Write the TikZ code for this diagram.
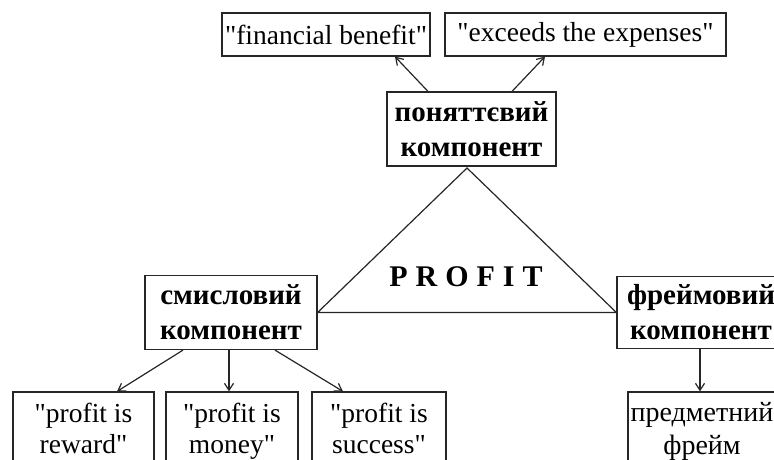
\documentclass[tikz,border=0pt]{standalone}
\usepackage{fontspec}
\setmainfont{Liberation Serif}
\usetikzlibrary{arrows.meta}
\newcommand{\qd}{\textquotedbl}
\tikzset{
  box/.style={draw=black!85, line width=1.2pt, inner sep=0pt, align=center},
  entext/.style={font=\fontsize{27.5}{31}\selectfont},
  uktext/.style={font=\fontsize{29}{35}\selectfont\bfseries},
  ukreg/.style={font=\fontsize{28}{33}\selectfont},
  conn/.style={draw=black!85, line width=1.2pt, -{Straight Barb[length=7pt,width=9pt,line width=1.2pt]}},
  tri/.style={draw=black!85, line width=1.2pt, line join=miter}
}
\begin{document}
\begin{tikzpicture}[x=1pt,y=-1pt]
\useasboundingbox (0,0) rectangle (774,459);
\clip (0,0) rectangle (774,459);
% top boxes
\node[box,entext,minimum width=208pt,minimum height=43pt] (fin) at (326,34.5) {\qd financial benefit\qd};
\node[box,entext,minimum width=281pt,minimum height=43pt] (exc) at (585.5,34.5) {\qd exceeds the expenses\qd};
\node[box,uktext,minimum width=169pt,minimum height=74pt] (pon) at (471.5,129) {поняттєвий\\компонент};
% middle boxes
\node[box,uktext,minimum width=172pt,minimum height=74pt] (smys) at (231,312.5) {смисловий\\компонент};
\node[box,uktext,minimum width=168pt,minimum height=72pt] (frame) at (701,312.5) {фреймовий\\компонент};
% bottom boxes
\node[box,entext,minimum width=141pt,minimum height=78pt] (reward) at (83.5,431) {\qd profit is\\reward\qd\vphantom{y}};
\node[box,entext,minimum width=132pt,minimum height=78pt] (money) at (232,431) {\qd profit is\\money\qd};
\node[box,entext,minimum width=134pt,minimum height=78pt] (success) at (379,431) {\qd profit is\\success\qd\vphantom{y}};
\node[box,ukreg,minimum width=148pt,minimum height=78pt] (predm) at (702,431) {предметний\\фрейм};
% triangle
\coordinate (apex) at (467,168);
\draw[tri] (smys.east) -- (apex) -- (frame.west) -- cycle;
\node[font=\fontsize{30}{30}\selectfont\bfseries, inner sep=0pt] (profit) at (466,277) {P\kern8pt R\kern8pt O\kern8pt F\kern8pt I\kern8pt T};
% connectors
\draw[conn] ([xshift=-43.5pt]pon.north) -- ([xshift=69pt]fin.south);
\draw[conn] ([xshift=40.5pt]pon.north) -- ([xshift=-40.5pt]exc.south);
\draw[conn] ([xshift=-48pt]smys.south) -- ([xshift=33.5pt]reward.north);
\draw[conn] ([xshift=-2pt]smys.south) -- ([xshift=-3pt]money.north);
\draw[conn] ([xshift=44pt]smys.south) -- ([xshift=-36pt]success.north);
\draw[conn] ([xshift=-1pt]frame.south) -- ([xshift=-2pt]predm.north);
\end{tikzpicture}
\end{document}
